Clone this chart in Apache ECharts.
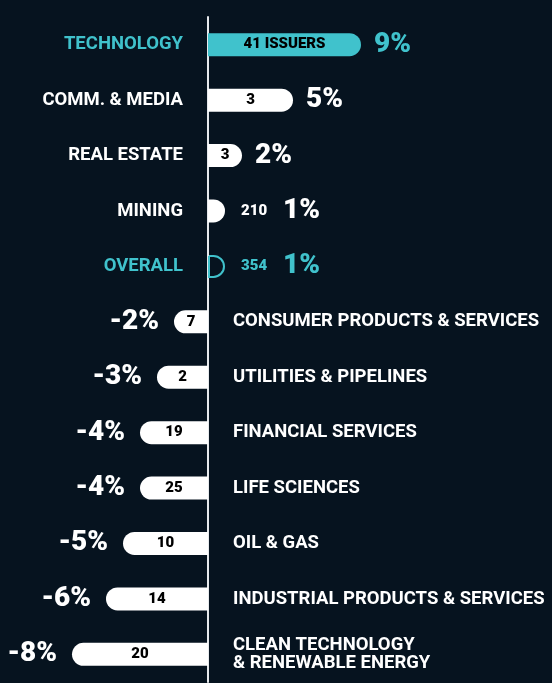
<!DOCTYPE html>
<html>
<head>
<meta charset="utf-8">
<script src="https://cdn.jsdelivr.net/npm/echarts@6/dist/echarts.min.js"></script>
<style>
  html, body { margin: 0; padding: 0; background: #06131f; }
  #chart { width: 552px; height: 683px; }
</style>
</head>
<body>
<div id="chart"></div>
<script>
  // sectors, top to bottom
  var sectors = ['TECHNOLOGY', 'COMM. & MEDIA', 'REAL ESTATE', 'MINING', 'OVERALL',
    'CONSUMER PRODUCTS & SERVICES', 'UTILITIES & PIPELINES', 'FINANCIAL SERVICES',
    'LIFE SCIENCES', 'OIL & GAS', 'INDUSTRIAL PRODUCTS & SERVICES',
    'CLEAN TECHNOLOGY\n& RENEWABLE ENERGY'];
  var returns = [9, 5, 2, 1, 1, -2, -3, -4, -4, -5, -6, -8];
  var issuers = [41, 3, 3, 210, 354, 7, 2, 19, 25, 10, 14, 20];
  var highlight = ['TECHNOLOGY', 'OVERALL'];
  var countOutside = ['MINING', 'OVERALL'];

  var TEAL = '#40c2cc';
  var WHITE = '#ffffff';
  var FONT = 'Roboto';

  function isHi(i) { return highlight.indexOf(sectors[i]) >= 0; }
  function isOut(i) { return countOutside.indexOf(sectors[i]) >= 0; }

  var barData = returns.map(function (v, i) {
    var item = {
      value: v,
      itemStyle: {
        color: isHi(i) ? TEAL : WHITE,
        borderRadius: v > 0 ? [0, 12, 12, 0] : [12, 0, 0, 12]
      }
    };
    if (sectors[i] === 'OVERALL') {
      item.itemStyle.color = 'rgba(0,0,0,0)';
      item.itemStyle.borderColor = TEAL;
      item.itemStyle.borderWidth = 2;
    }
    if (isOut(i)) item.label = { show: false };
    return item;
  });

  // % label (and outside count) at the end of each bar
  var endData = returns.map(function (v, i) {
    return {
      value: [v, sectors[i]],
      label: {
        position: v > 0 ? 'right' : 'left',
        distance: v > 0 ? (isOut(i) ? 16 : 13) : 15
      }
    };
  });

  // sector names next to the zero line, opposite side of the bar
  var nameData = returns.map(function (v, i) {
    return {
      value: [0, sectors[i]],
      label: {
        position: v > 0 ? 'left' : 'right',
        color: isHi(i) ? TEAL : WHITE
      }
    };
  });

  var chart = echarts.init(document.getElementById('chart'));
  chart.setOption({
    backgroundColor: '#06131f',
    animation: false,
    grid: { left: 4, right: 4, top: 17, bottom: 1, containLabel: false, outerBoundsMode: 'none' },
    xAxis: {
      type: 'value', min: -12, max: 20, show: false,
      splitLine: { show: false }
    },
    yAxis: {
      type: 'category', data: sectors, inverse: true,
      axisLine: { show: true, onZero: true, lineStyle: { color: '#e6e9ec', width: 2 } },
      axisTick: { show: false },
      axisLabel: { show: false }
    },
    series: [
      {
        type: 'bar',
        data: barData,
        barWidth: 23,
        label: {
          show: true, position: 'inside',
          fontFamily: FONT, fontWeight: 900, fontSize: 15, color: '#000',
          formatter: function (p) {
            return p.dataIndex === 0 ? issuers[0] + ' ISSUERS' : String(issuers[p.dataIndex]);
          }
        }
      },
      {
        type: 'scatter',
        data: endData,
        symbolSize: 0,
        silent: true,
        itemStyle: { opacity: 1 },
        label: {
          show: true,
          formatter: function (p) {
            var i = p.dataIndex;
            var pct = returns[i] + '%';
            var k = isHi(i) ? 't' : 'w';
            if (isOut(i)) return '{' + k + 'c|' + issuers[i] + '}{' + k + 'p|' + pct + '}';
            return '{' + k + 'p|' + pct + '}';
          },
          rich: {
            wp: { fontFamily: FONT, fontWeight: 900, fontSize: 28, color: WHITE },
            tp: { fontFamily: FONT, fontWeight: 900, fontSize: 28, color: TEAL },
            wc: { fontFamily: FONT, fontWeight: 900, fontSize: 15, color: WHITE, padding: [0, 16, 0, 0] },
            tc: { fontFamily: FONT, fontWeight: 900, fontSize: 15, color: TEAL, padding: [0, 16, 0, 0] }
          }
        }
      },
      {
        type: 'scatter',
        data: nameData,
        symbolSize: 0,
        silent: true,
        itemStyle: { opacity: 1 },
        label: {
          show: true, distance: 25, lineHeight: 18,
          fontFamily: FONT, fontWeight: 'bold', fontSize: 18.5,
          formatter: function (p) { return sectors[p.dataIndex]; }
        }
      }
    ]
  });
</script>
</body>
</html>
